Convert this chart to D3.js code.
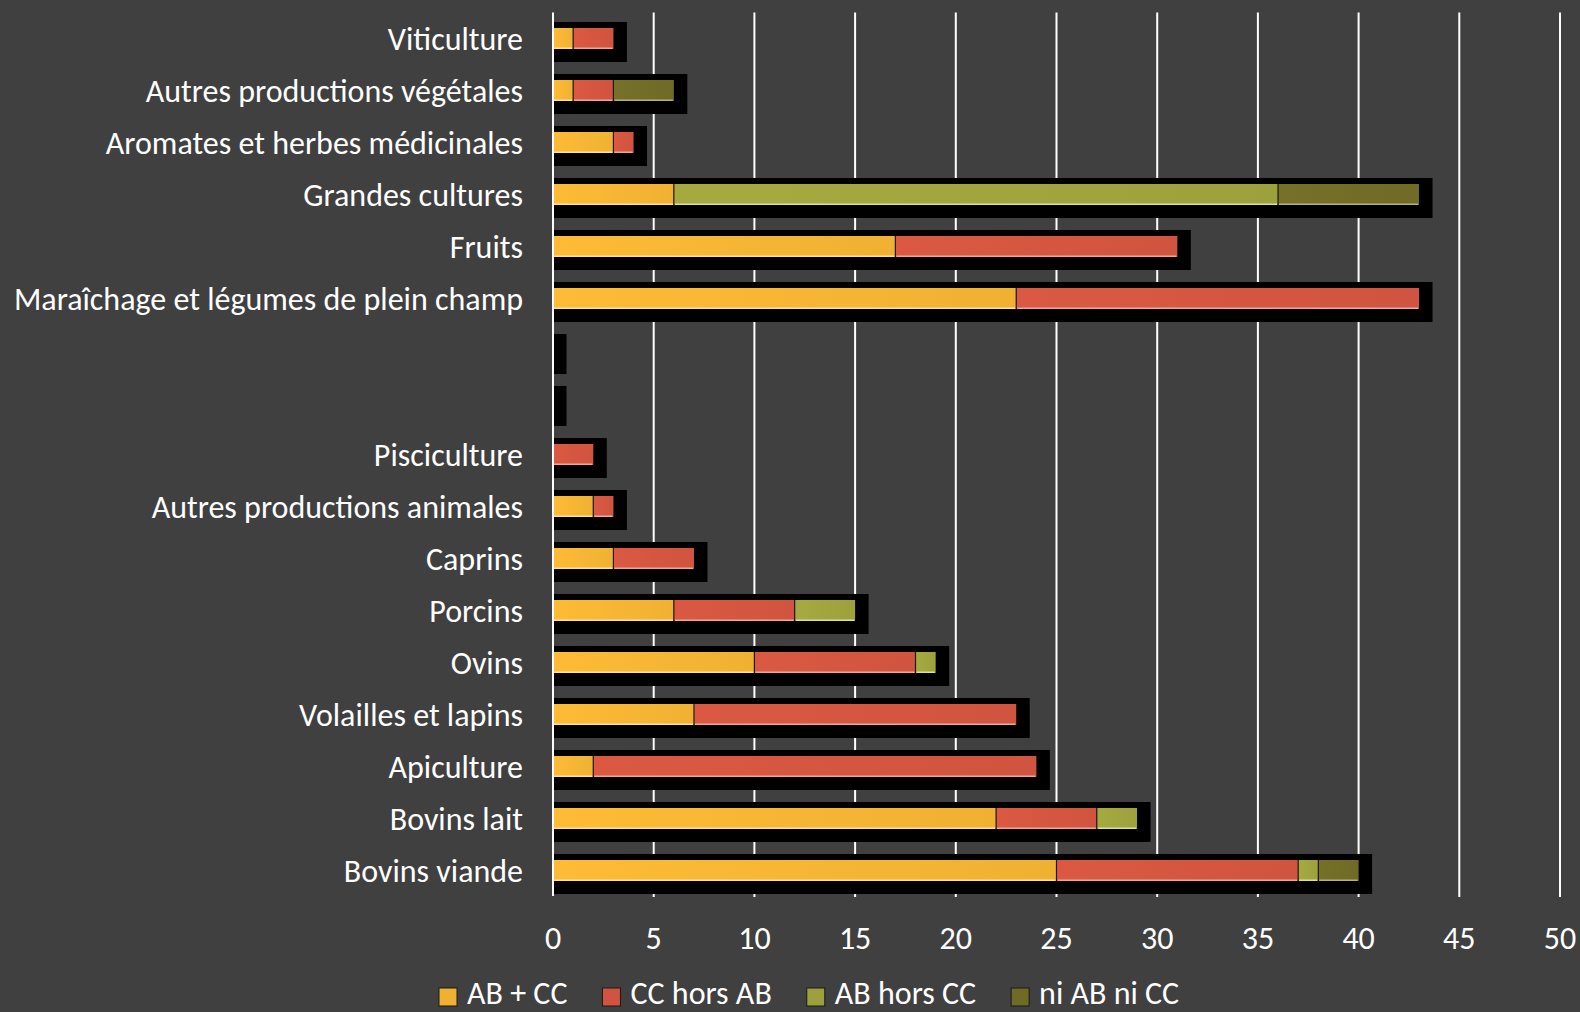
<!DOCTYPE html>
<html>
<head>
<meta charset="utf-8">
<script src="https://cdn.jsdelivr.net/npm/d3@7"></script>
<style>
  html, body { margin: 0; padding: 0; background: #404040; }
  svg text { font-family: Calibri, Carlito, "Open Sans", sans-serif; fill: #ffffff; }
</style>
</head>
<body>
<div id="chart"></div>
<script>
// categories, top to bottom (two empty rows separate the plant and animal groups)
var categories = [
    "Viticulture",
    "Autres productions végétales",
    "Aromates et herbes médicinales",
    "Grandes cultures",
    "Fruits",
    "Maraîchage et légumes de plein champ",
    "",
    "",
    "Pisciculture",
    "Autres productions animales",
    "Caprins",
    "Porcins",
    "Ovins",
    "Volailles et lapins",
    "Apiculture",
    "Bovins lait",
    "Bovins viande"
];
var seriesNames = ["AB + CC", "CC hors AB", "AB hors CC", "ni AB ni CC"];
var abCC      = [1, 1, 3, 6, 17, 23, 0, 0, 0, 2, 3, 6, 10, 7, 2, 22, 25];
var ccHorsAB  = [2, 2, 1, 0, 14, 20, 0, 0, 2, 1, 4, 6, 8, 16, 22, 5, 12];
var abHorsCC  = [0, 0, 0, 30, 0, 0, 0, 0, 0, 0, 0, 3, 1, 0, 0, 2, 1];
var niABniCC  = [0, 3, 0, 7, 0, 0, 0, 0, 0, 0, 0, 0, 0, 0, 0, 0, 2];
var xTicks = [0, 5, 10, 15, 20, 25, 30, 35, 40, 45, 50];

var colors = ["#f0b133", "#d0543f", "#9ca13d", "#6f6b27"];
var lightColors = ["#fbe38c", "#f3a597", "#dfe190", "#b6b27a"];

var width = 1580, height = 1012;
var fontSize = 32;

var rows = categories.map(function(c, i) {
    return {i: i, name: c, values: [abCC[i], ccHorsAB[i], abHorsCC[i], niABniCC[i]]};
});
rows.forEach(function(r) {
    var acc = 0;
    r.segs = r.values.map(function(v, k) {
        var s = {k: k, x0: acc, x1: acc + v};
        acc += v;
        return s;
    });
    r.total = acc;
});

var svg = d3.select("#chart").append("svg")
    .attr("width", width)
    .attr("height", height);

var defs = svg.append("defs");
colors.forEach(function(c, k) {
    var g = defs.append("linearGradient").attr("id", "grad" + k)
        .attr("x1", "0%").attr("x2", "100%").attr("y1", "0%").attr("y2", "0%");
    g.append("stop").attr("offset", "0%").attr("stop-color", d3.color(c).brighter(0.15));
    g.append("stop").attr("offset", "100%").attr("stop-color", c);
});

var x = d3.scaleLinear().domain([0, 50]).range([553, 1560]);
var y = d3.scaleBand().domain(d3.range(categories.length)).range([12.5, 896.5]);
var bw = y.bandwidth();

// gridlines (behind bars)
svg.append("g").selectAll("line")
    .data(xTicks.filter(function(t) { return t > 0; }))
    .enter().append("line")
    .attr("x1", function(d) { return x(d); })
    .attr("x2", function(d) { return x(d); })
    .attr("y1", 12.5)
    .attr("y2", 897)
    .attr("stroke", "#ffffff")
    .attr("stroke-width", 2);

// black shadow boxes
svg.append("g").selectAll("rect")
    .data(rows)
    .enter().append("rect")
    .attr("x", x(0))
    .attr("y", function(d) { return y(d.i) + bw / 2 - 16.5; })
    .attr("width", function(d) { return x(d.total) - x(0) + 13.5; })
    .attr("height", 40)
    .attr("fill", "#000000");

// stacked segments
var barH = 21;
var segG = svg.append("g");
rows.forEach(function(r) {
    var cy = y(r.i) + bw / 2;
    var segs = r.segs.filter(function(s) { return s.x1 > s.x0; });
    var g = segG.append("g");
    g.selectAll("rect.seg")
        .data(segs)
        .enter().append("rect")
        .attr("class", "seg")
        .attr("x", function(s) { return x(s.x0); })
        .attr("y", cy - barH / 2)
        .attr("width", function(s) { return x(s.x1) - x(s.x0); })
        .attr("height", barH)
        .attr("fill", function(s) { return "url(#grad" + s.k + ")"; });
    // bottom highlight
    g.selectAll("rect.hl")
        .data(segs)
        .enter().append("rect")
        .attr("class", "hl")
        .attr("x", function(s) { return x(s.x0) + 1; })
        .attr("y", cy + barH / 2 - 1.5)
        .attr("width", function(s) { return Math.max(0, x(s.x1) - x(s.x0) - 2); })
        .attr("height", 1.5)
        .attr("fill", function(s) { return lightColors[s.k]; });
    // dark separators between segments
    g.selectAll("line.sep")
        .data(segs.filter(function(s) { return s.x0 > 0; }))
        .enter().append("line")
        .attr("class", "sep")
        .attr("x1", function(s) { return x(s.x0); })
        .attr("x2", function(s) { return x(s.x0); })
        .attr("y1", cy - barH / 2)
        .attr("y2", cy + barH / 2)
        .attr("stroke", "#1a1a1a")
        .attr("stroke-width", 1.2);
});

// vertical axis line at 0, on top
svg.append("line")
    .attr("x1", x(0)).attr("x2", x(0))
    .attr("y1", 12.5).attr("y2", 896)
    .attr("stroke", "#ffffff")
    .attr("stroke-width", 2);

// category labels
svg.append("g").selectAll("text")
    .data(rows)
    .enter().append("text")
    .attr("x", 523)
    .attr("y", function(d) { return y(d.i) + bw / 2; })
    .attr("dy", "0.35em")
    .attr("text-anchor", "end")
    .style("font-size", fontSize + "px")
    .text(function(d) { return d.name; });

// x tick labels
svg.append("g").selectAll("text")
    .data(xTicks)
    .enter().append("text")
    .attr("x", function(d) { return x(d); })
    .attr("y", 938)
    .attr("dy", "0.35em")
    .attr("text-anchor", "middle")
    .style("font-size", fontSize + "px")
    .text(function(d) { return d; });

// legend
var legend = svg.append("g");
var lx = 439;
seriesNames.forEach(function(name, k) {
    legend.append("rect")
        .attr("x", lx)
        .attr("y", 988)
        .attr("width", 18)
        .attr("height", 18)
        .attr("fill", colors[k])
        .attr("stroke", "#1a1a1a")
        .attr("stroke-width", 1);
    var t = legend.append("text")
        .attr("x", lx + 28)
        .attr("y", 1004)
        .style("font-size", fontSize + "px")
        .text(name);
    lx += 28 + t.node().getComputedTextLength() + 35;
});
</script>
</body>
</html>
